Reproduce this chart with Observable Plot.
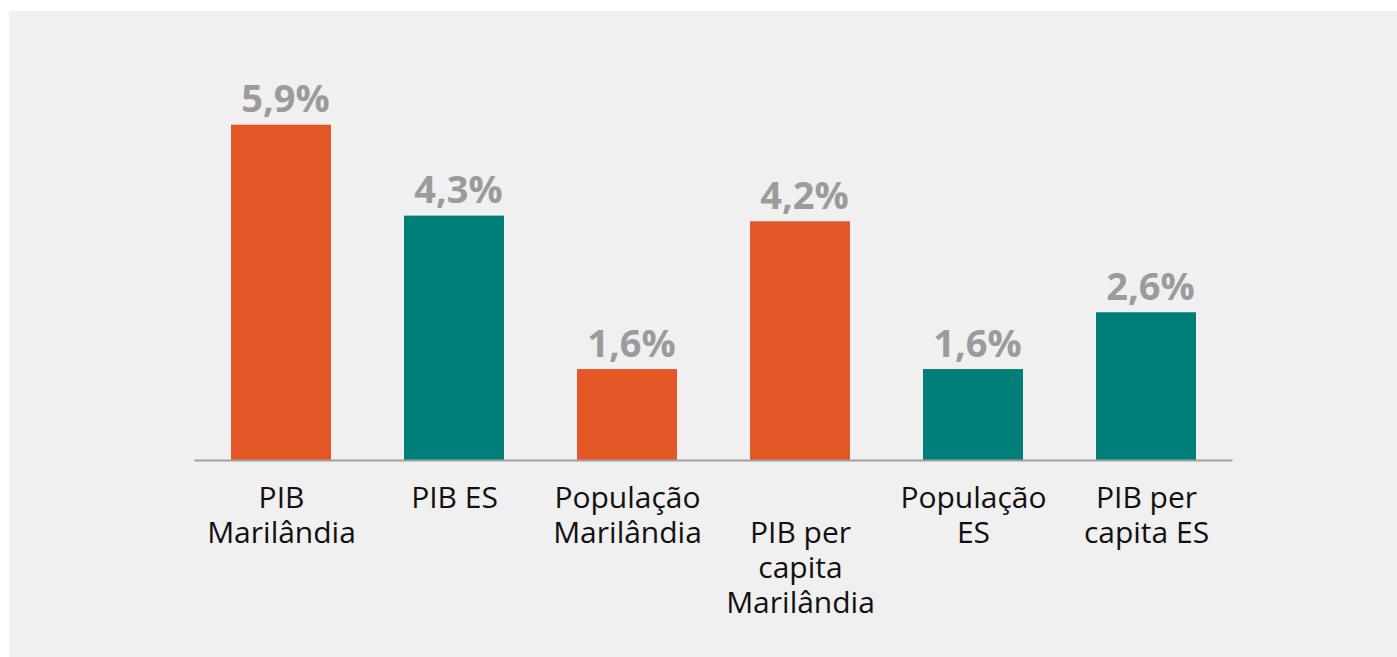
<!DOCTYPE html>
<html>
<head>
<meta charset="utf-8">
<script src="https://cdn.jsdelivr.net/npm/d3@7"></script>
<script src="https://cdn.jsdelivr.net/npm/@observablehq/plot@0.6"></script>
<style>
  html, body { margin: 0; padding: 0; background: #ffffff; }
  #chart { position: absolute; left: 9px; top: 11px; width: 1388px; height: 646px; background: #f0f0f0; }
  #chart svg { background: #f0f0f0; font-family: "Open Sans", sans-serif; }
</style>
</head>
<body>
<div id="chart"></div>
<script>
const categories = ["PIB Marilândia", "PIB ES", "População Marilândia", "PIB per capita Marilândia", "População ES", "PIB per capita ES"];
const labels = ["PIB\nMarilândia", "PIB ES", "População\nMarilândia", "\nPIB per\ncapita\nMarilândia", "População\nES", "PIB per\ncapita ES"];
const values = [5.9, 4.3, 1.6, 4.2, 1.6, 2.6];
const groups = ["Marilândia", "ES", "Marilândia", "Marilândia", "ES", "ES"];
const valueLabels = ["5,9%", "4,3%", "1,6%", "4,2%", "1,6%", "2,6%"];

const data = categories.map((c, i) => ({
  category: c, label: labels[i], value: values[i], group: groups[i], valueLabel: valueLabels[i]
}));

const chart = Plot.plot({
  width: 1388,
  height: 646,
  marginLeft: 185.5,
  marginRight: 164.5,
  marginTop: 108,
  marginBottom: 197,
  style: { background: "#f0f0f0", fontFamily: "'Open Sans', sans-serif" },
  x: { domain: categories, paddingInner: 0.42, paddingOuter: 0.21, axis: null },
  y: { domain: [0, 6], axis: null },
  color: { domain: ["Marilândia", "ES"], range: ["#e35726", "#007f78"] },
  marks: [
    Plot.barY(data, { x: "category", y: "value", fill: "group" }),
    Plot.ruleY([0], { stroke: "#a0a0a0", strokeWidth: 2 }),
    Plot.text(data, {
      x: "category", y: "value", text: "valueLabel",
      lineAnchor: "bottom", dy: -13, dx: 4,
      fontSize: 38, fontWeight: "bold", fill: "#9b9b9b"
    }),
    Plot.text(data, {
      x: "category", y: () => 0, text: "label",
      lineAnchor: "top", dy: 23, lineHeight: 1.16,
      fontSize: 30, fill: "#111111"
    })
  ]
});
document.getElementById("chart").appendChild(chart);
</script>
</body>
</html>
